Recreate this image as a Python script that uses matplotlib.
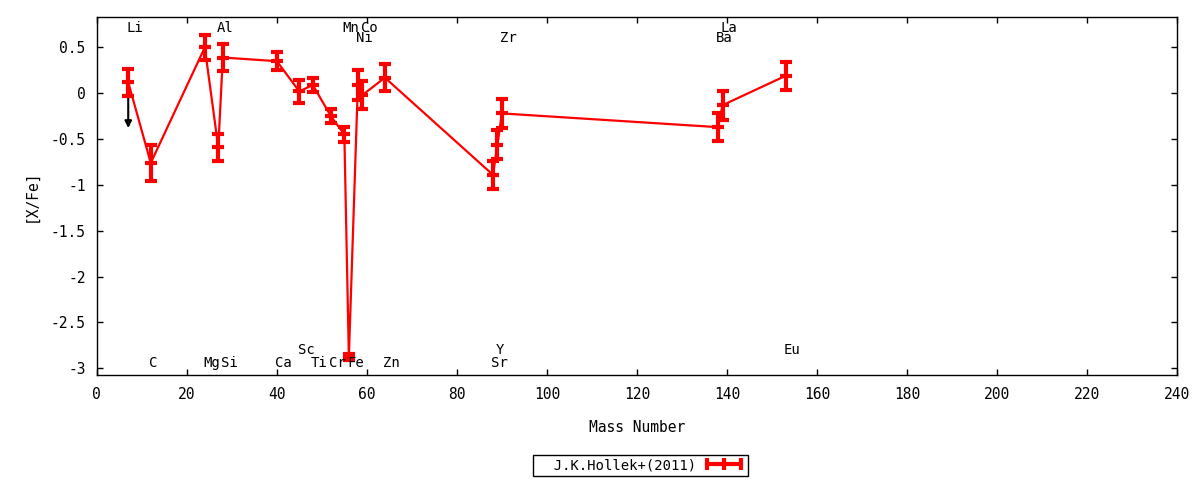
import matplotlib
matplotlib.use("Agg")
import matplotlib.pyplot as plt
from matplotlib.lines import Line2D
from matplotlib.ticker import FuncFormatter

plt.rcParams['font.family'] = ['DejaVu Sans Mono', 'DejaVu Sans']
plt.rcParams['axes.unicode_minus'] = False

# ---- data ----
elements = ["Li", "C", "Mg", "Al", "Si", "Ca", "Sc", "Ti", "Cr", "Mn",
            "Fe", "Ni", "Co", "Zn", "Sr", "Y", "Zr", "Ba", "La", "Eu"]
mass = [7, 12, 24, 27, 28, 40, 45, 48, 52, 55,
        56, 58, 59, 64, 88, 89, 90, 138, 139, 153]
xfe = [0.12, -0.76, 0.50, -0.59, 0.39, 0.35, 0.02, 0.09, -0.25, -0.45,
       -2.88, 0.09, -0.02, 0.17, -0.89, -0.56, -0.22, -0.37, -0.13, 0.19]
err = [0.15, 0.20, 0.14, 0.15, 0.15, 0.10, 0.13, 0.08, 0.08, 0.08,
       0.03, 0.16, 0.15, 0.15, 0.15, 0.16, 0.16, 0.15, 0.16, 0.15]
# label row for each element name
label_row = ["top", "bot", "bot", "top", "bot", "bot", "bot2", "bot", "bot", "top",
             "bot", "top2", "top", "bot", "bot", "bot2", "top2", "top2", "top", "bot2"]
row_y = {"top": 0.712, "top2": 0.603, "bot": -2.942, "bot2": -2.80}
upper_limit = ["Li"]
series_name = "J.K.Hollek+(2011)"
xticks = list(range(0, 241, 20))
yticks = [0.5, 0, -0.5, -1, -1.5, -2, -2.5, -3]

fig = plt.figure(figsize=(12, 4.8), dpi=100)
ax = fig.add_axes([0.0806, 0.219, 0.9005, 0.745])

red = '#ff0000'
# upper-limit arrows
for el, m, v in zip(elements, mass, xfe):
    if el in upper_limit:
        ax.annotate("", xy=(m, v - 0.5), xytext=(m, v),
                    arrowprops=dict(arrowstyle='-|>', color='black', lw=1.5,
                                    mutation_scale=10, shrinkA=0, shrinkB=0),
                    zorder=2)

ax.plot(mass, xfe, color=red, lw=1.6, zorder=3)
ax.errorbar(mass, xfe, yerr=err, fmt='none', ecolor=red, elinewidth=3,
            capsize=4, capthick=3, zorder=4)
ax.plot(mass, xfe, ls='none', marker='_', ms=8, mew=3, color=red, zorder=5)

for el, m, r in zip(elements, mass, label_row):
    ax.text(m - 0.4, row_y[r], el, ha='left', va='center', fontsize=10, zorder=6)

ax.set_xlim(0, 240)
ax.set_ylim(-3.073, 0.829)
ax.set_xticks(xticks)
ax.set_yticks(yticks)
ax.yaxis.set_major_formatter(FuncFormatter(lambda v, p: "%g" % v))
ax.tick_params(direction='in', length=4, width=1, top=True, right=True,
               labelsize=10.5)
ax.tick_params(axis='x', pad=9)
ax.tick_params(axis='y', pad=8)
for s in ax.spines.values():
    s.set_linewidth(1)

ax.set_xlabel("Mass Number", fontsize=10.5, labelpad=13)
ax.set_ylabel("[X/Fe]", fontsize=10.5, labelpad=9)

handle = Line2D([], [], color=red, lw=3, marker='|', ms=8, mew=3)
leg = fig.legend(handles=[handle], labels=["  " + series_name], loc='center',
                 bbox_to_anchor=(0.534, 0.031), numpoints=3, markerfirst=False,
                 frameon=True, fancybox=False, edgecolor='black', framealpha=1,
                 fontsize=10, handlelength=3.0, borderpad=0.25,
                 handletextpad=0.5, borderaxespad=0)
leg.get_frame().set_linewidth(1)

fig.savefig("out.png", dpi=100)
